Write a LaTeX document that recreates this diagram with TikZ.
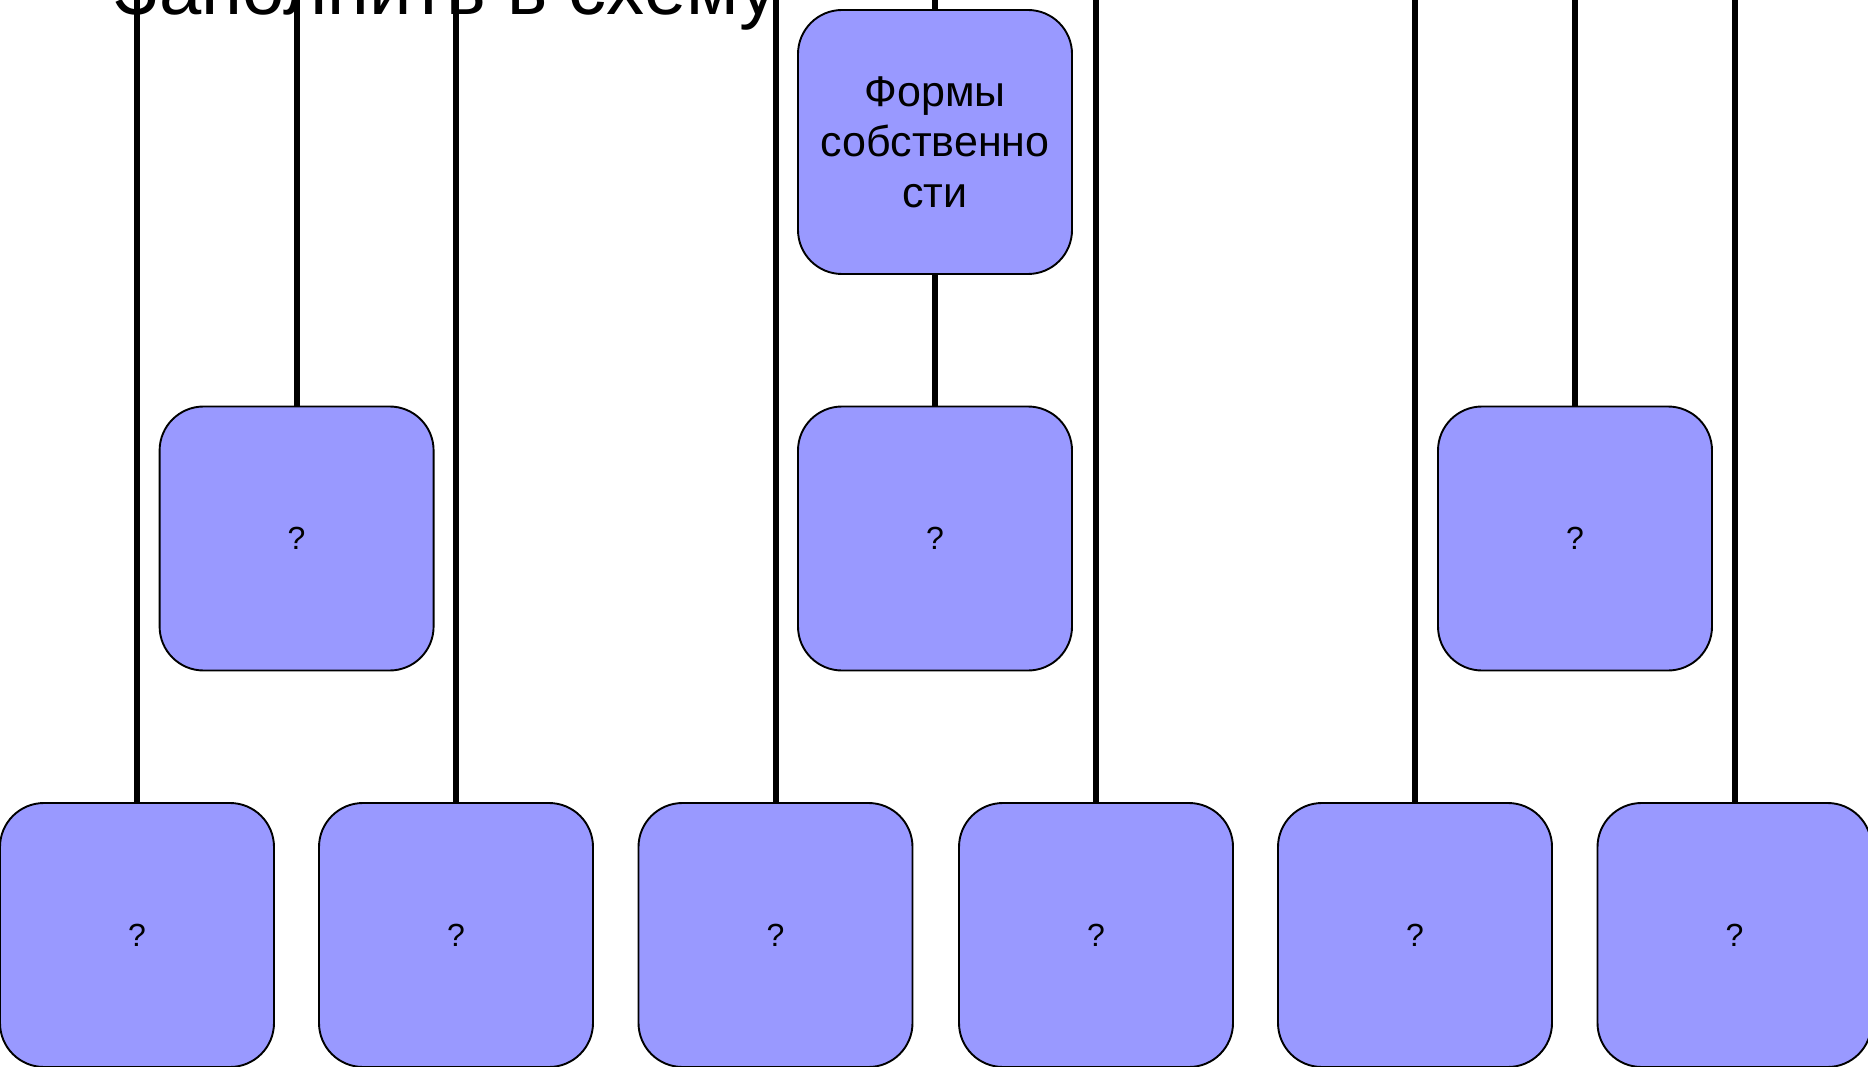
\documentclass[tikz,border=0pt]{standalone}
\usepackage{fontspec}
\setmainfont{Liberation Sans}
\definecolor{boxblue}{HTML}{9999FF}
\begin{document}
\begin{tikzpicture}[x=1pt,y=-1pt,
  box/.style={draw=black, line width=1.9pt, fill=boxblue, rounded corners=44pt,
    minimum width=274pt, minimum height=264pt, inner sep=0pt, align=center,
    font=\fontsize{32}{38}\selectfont},
  link/.style={line width=6pt}]
\useasboundingbox (0,0) rectangle (1868,1067);
\node[anchor=base west, inner sep=0pt, font=\fontsize{76}{90}\selectfont] (title) at (113,15) {Заполнить в схему};
% top anchors of the connectors
\foreach \n/\x in {1/137,2/296.6,3/456,4/775.5,5/935,6/1096,7/1415,8/1575,9/1734.5}
  \coordinate (t\n) at (\x,-2);
% boxes
\node[box, font=\fontsize{43}{50.6}\selectfont] (top) at (935,142) {Формы\\собственно\\сти};
\node[box] (m1) at (296.6,538.5) {?};
\node[box] (m2) at (935,538.5) {?};
\node[box] (m3) at (1575,538.5) {?};
\node[box] (b1) at (137,935) {?};
\node[box] (b2) at (456,935) {?};
\node[box] (b3) at (775.5,935) {?};
\node[box] (b4) at (1096,935) {?};
\node[box] (b5) at (1415,935) {?};
\node[box] (b6) at (1734.5,935) {?};
% connectors
\draw[link] (t1) -- (b1.north);
\draw[link] (t2) -- (m1.north);
\draw[link] (t3) -- (b2.north);
\draw[link] (t4) -- (b3.north);
\draw[link] (t5) -- (top.north);
\draw[link] (top.south) -- (m2.north);
\draw[link] (t6) -- (b4.north);
\draw[link] (t7) -- (b5.north);
\draw[link] (t8) -- (m3.north);
\draw[link] (t9) -- (b6.north);
\end{tikzpicture}
\end{document}
